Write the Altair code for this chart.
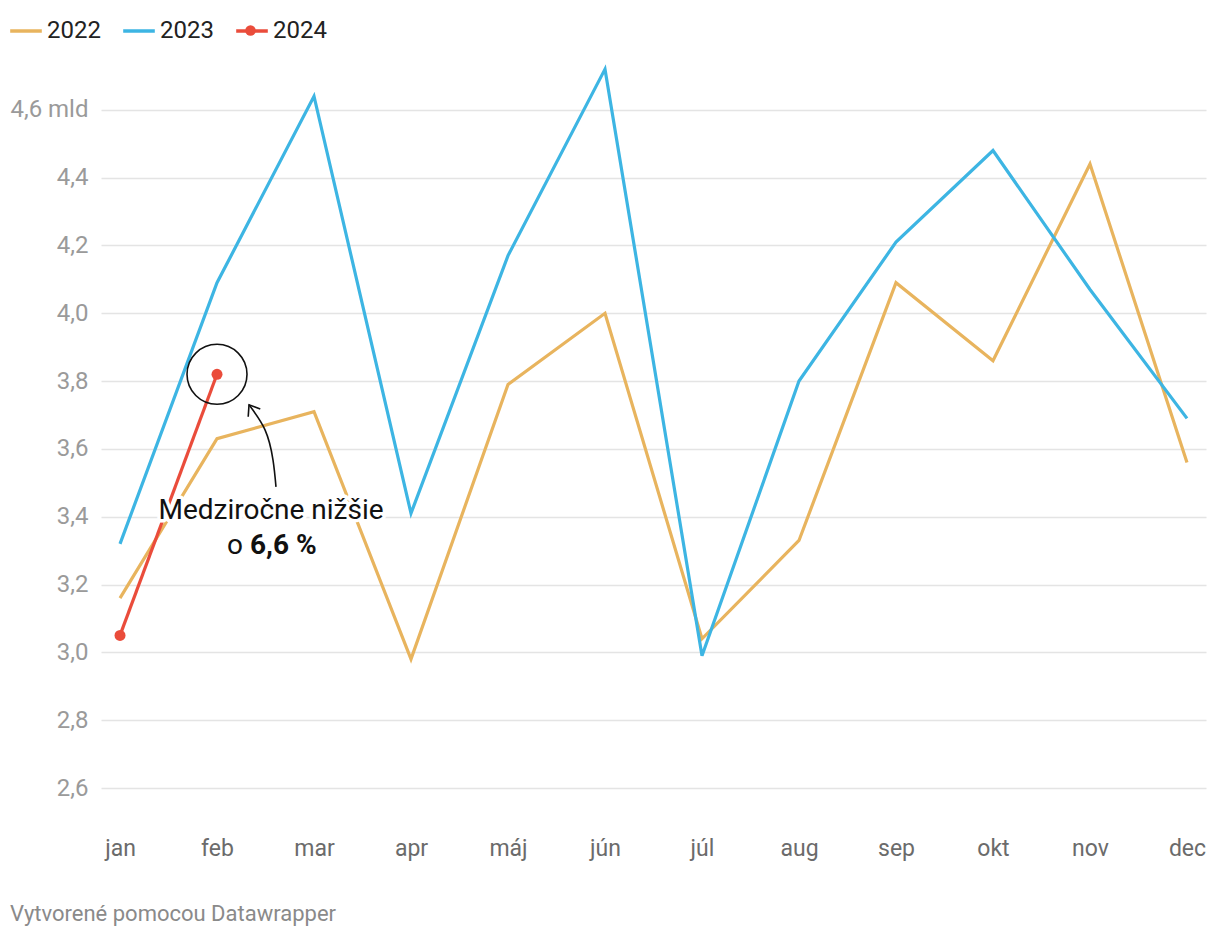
import altair as alt
import pandas as pd

months = ["jan", "feb", "mar", "apr", "máj", "jún", "júl", "aug", "sep", "okt", "nov", "dec"]
v2022 = [3.16, 3.63, 3.71, 2.98, 3.79, 4.00, 3.04, 3.33, 4.09, 3.86, 4.44, 3.56]
v2023 = [3.32, 4.09, 4.64, 3.41, 4.17, 4.72, 2.99, 3.80, 4.21, 4.48, 4.07, 3.69]
v2024 = [3.05, 3.82]
years = ["2022", "2023", "2024"]
colors = ["#e8b45e", "#3db5e3", "#ea4c3b"]
y_ticks = [2.6, 2.8, 3.0, 3.2, 3.4, 3.6, 3.8, 4.0, 4.2, 4.4, 4.6]

# annotation data
ann_month = 1
ann_value = 3.82
ann_line1 = "Medziročne nižšie"
ann_o = "o"
ann_bold = "6,6 %"
arrow_x = [1.608, 1.577, 1.495, 1.330]
arrow_y = [3.488, 3.568, 3.656, 3.730]

rows = []
for yr, vals in zip(years, [v2022, v2023, v2024]):
    for i, v in enumerate(vals):
        rows.append({"year": yr, "m": i, "month": months[i], "value": v})
df = pd.DataFrame(rows)

x_scale = alt.Scale(domain=[-0.196, 11.196], nice=False, zero=False)
y_scale = alt.Scale(domain=[2.6, 4.8], nice=False, zero=False)
color_scale = alt.Scale(domain=years, range=colors)

label_arr = "[" + ",".join("'" + m + "'" for m in months) + "]"

legend = alt.Legend(
    title=None, orient="none", legendX=-93, legendY=-29, direction="horizontal",
    symbolType="stroke", symbolSize=1000, symbolStrokeWidth=3.5,
    labelFontSize=24, labelFont="Roboto", labelColor="#222222",
    labelOffset=3, columnPadding=15,
)

dot_legend = alt.Legend(
    title=None, orient="none", legendX=144, legendY=-17, direction="horizontal",
    symbolType="circle", symbolSize=110, symbolStrokeWidth=0,
    labelExpr="''", labelFontSize=1, labelOffset=0,
)

base = alt.Chart(df)

lines = base.mark_line(strokeWidth=3.2, strokeJoin="miter", clip=False).encode(
    x=alt.X("m:Q", scale=x_scale, axis=alt.Axis(
        values=list(range(12)), labelExpr=label_arr + "[datum.value]",
        title=None, grid=False, domain=False, ticks=False,
        labelFont="Roboto", labelFontSize=23, labelColor="#6b6b6b",
        labelPadding=60, labelBaseline="middle")),
    y=alt.Y("value:Q", scale=y_scale, axis=alt.Axis(
        values=y_ticks, title=None, domain=False, ticks=False,
        labelExpr="datum.value === 4.6 ? '4,6 mld' : replace(format(datum.value, '.1f'), '.', ',')",
        labelFont="Roboto", labelFontSize=24, labelColor="#9a9a9a",
        labelPadding=13, gridColor="#e4e4e4", gridWidth=1.5)),
    color=alt.Color("year:N", scale=color_scale, legend=legend),
    detail="year:N",
)

dots = base.transform_filter(alt.datum.year == "2024").mark_circle(size=121, opacity=1).encode(
    x=alt.X("m:Q", scale=x_scale),
    y=alt.Y("value:Q", scale=y_scale),
    fill=alt.Fill("year:N", scale=alt.Scale(domain=["2024"], range=[colors[2]]), legend=dot_legend),
)

ann_df = pd.DataFrame({"m": [ann_month], "value": [ann_value]})
ring = alt.Chart(ann_df).mark_point(shape="circle", size=3600, filled=False,
                                    stroke="#111111", strokeWidth=1.6, opacity=1).encode(
    x=alt.X("m:Q", scale=x_scale), y=alt.Y("value:Q", scale=y_scale))

arrow_df = pd.DataFrame({"m": arrow_x, "value": arrow_y, "o": list(range(len(arrow_x)))})
arrow = alt.Chart(arrow_df).mark_line(stroke="#111111", strokeWidth=1.6, interpolate="natural").encode(
    x=alt.X("m:Q", scale=x_scale), y=alt.Y("value:Q", scale=y_scale), order="o:Q")

head_df = pd.DataFrame({"m": [arrow_x[-1]], "value": [arrow_y[-1]]})
head = alt.Chart(head_df).mark_point(shape="M-0.6,0.8L0,0L0.6,0.8", size=576, filled=False,
                                     stroke="#111111", strokeWidth=1.6, angle=327, opacity=1).encode(
    x=alt.X("m:Q", scale=x_scale), y=alt.Y("value:Q", scale=y_scale))

text_df = pd.DataFrame({"m": [ann_month], "value": [ann_value]})

def txt(label, dx, dy, align, weight, halo):
    kw = dict(text=label, dx=dx, dy=dy, align=align, baseline="middle", font="Roboto",
              fontSize=28, fontWeight=weight, fill="#111111")
    if halo:
        kw.update(stroke="white", strokeWidth=7, strokeJoin="round", fill="white")
    return alt.Chart(text_df).mark_text(**kw).encode(
        x=alt.X("m:Q", scale=x_scale), y=alt.Y("value:Q", scale=y_scale))

texts = []
for halo in (True, False):
    texts.append(txt(ann_line1, 54, 137, "center", "normal", halo))
    texts.append(txt(ann_o, 10, 172, "left", "normal", halo))
    texts.append(txt(ann_bold, 33, 172, "left", "bold", halo))

chart = alt.layer(lines, dots, ring, arrow, head, *texts).properties(
    width=1105, height=746,
    padding={"left": 93, "top": 34, "right": 6, "bottom": 140},
    autosize=alt.AutoSizeParams(type="none"),
    title=alt.TitleParams("Vytvorené pomocou Datawrapper", orient="bottom", anchor="start",
                          frame="group", dx=-91, offset=44, font="Roboto", fontSize=22,
                          fontWeight="normal", color="#8a8a8a"),
).configure_view(stroke=None)

chart.save("out.html", embed_options={"renderer": "svg", "actions": False})
